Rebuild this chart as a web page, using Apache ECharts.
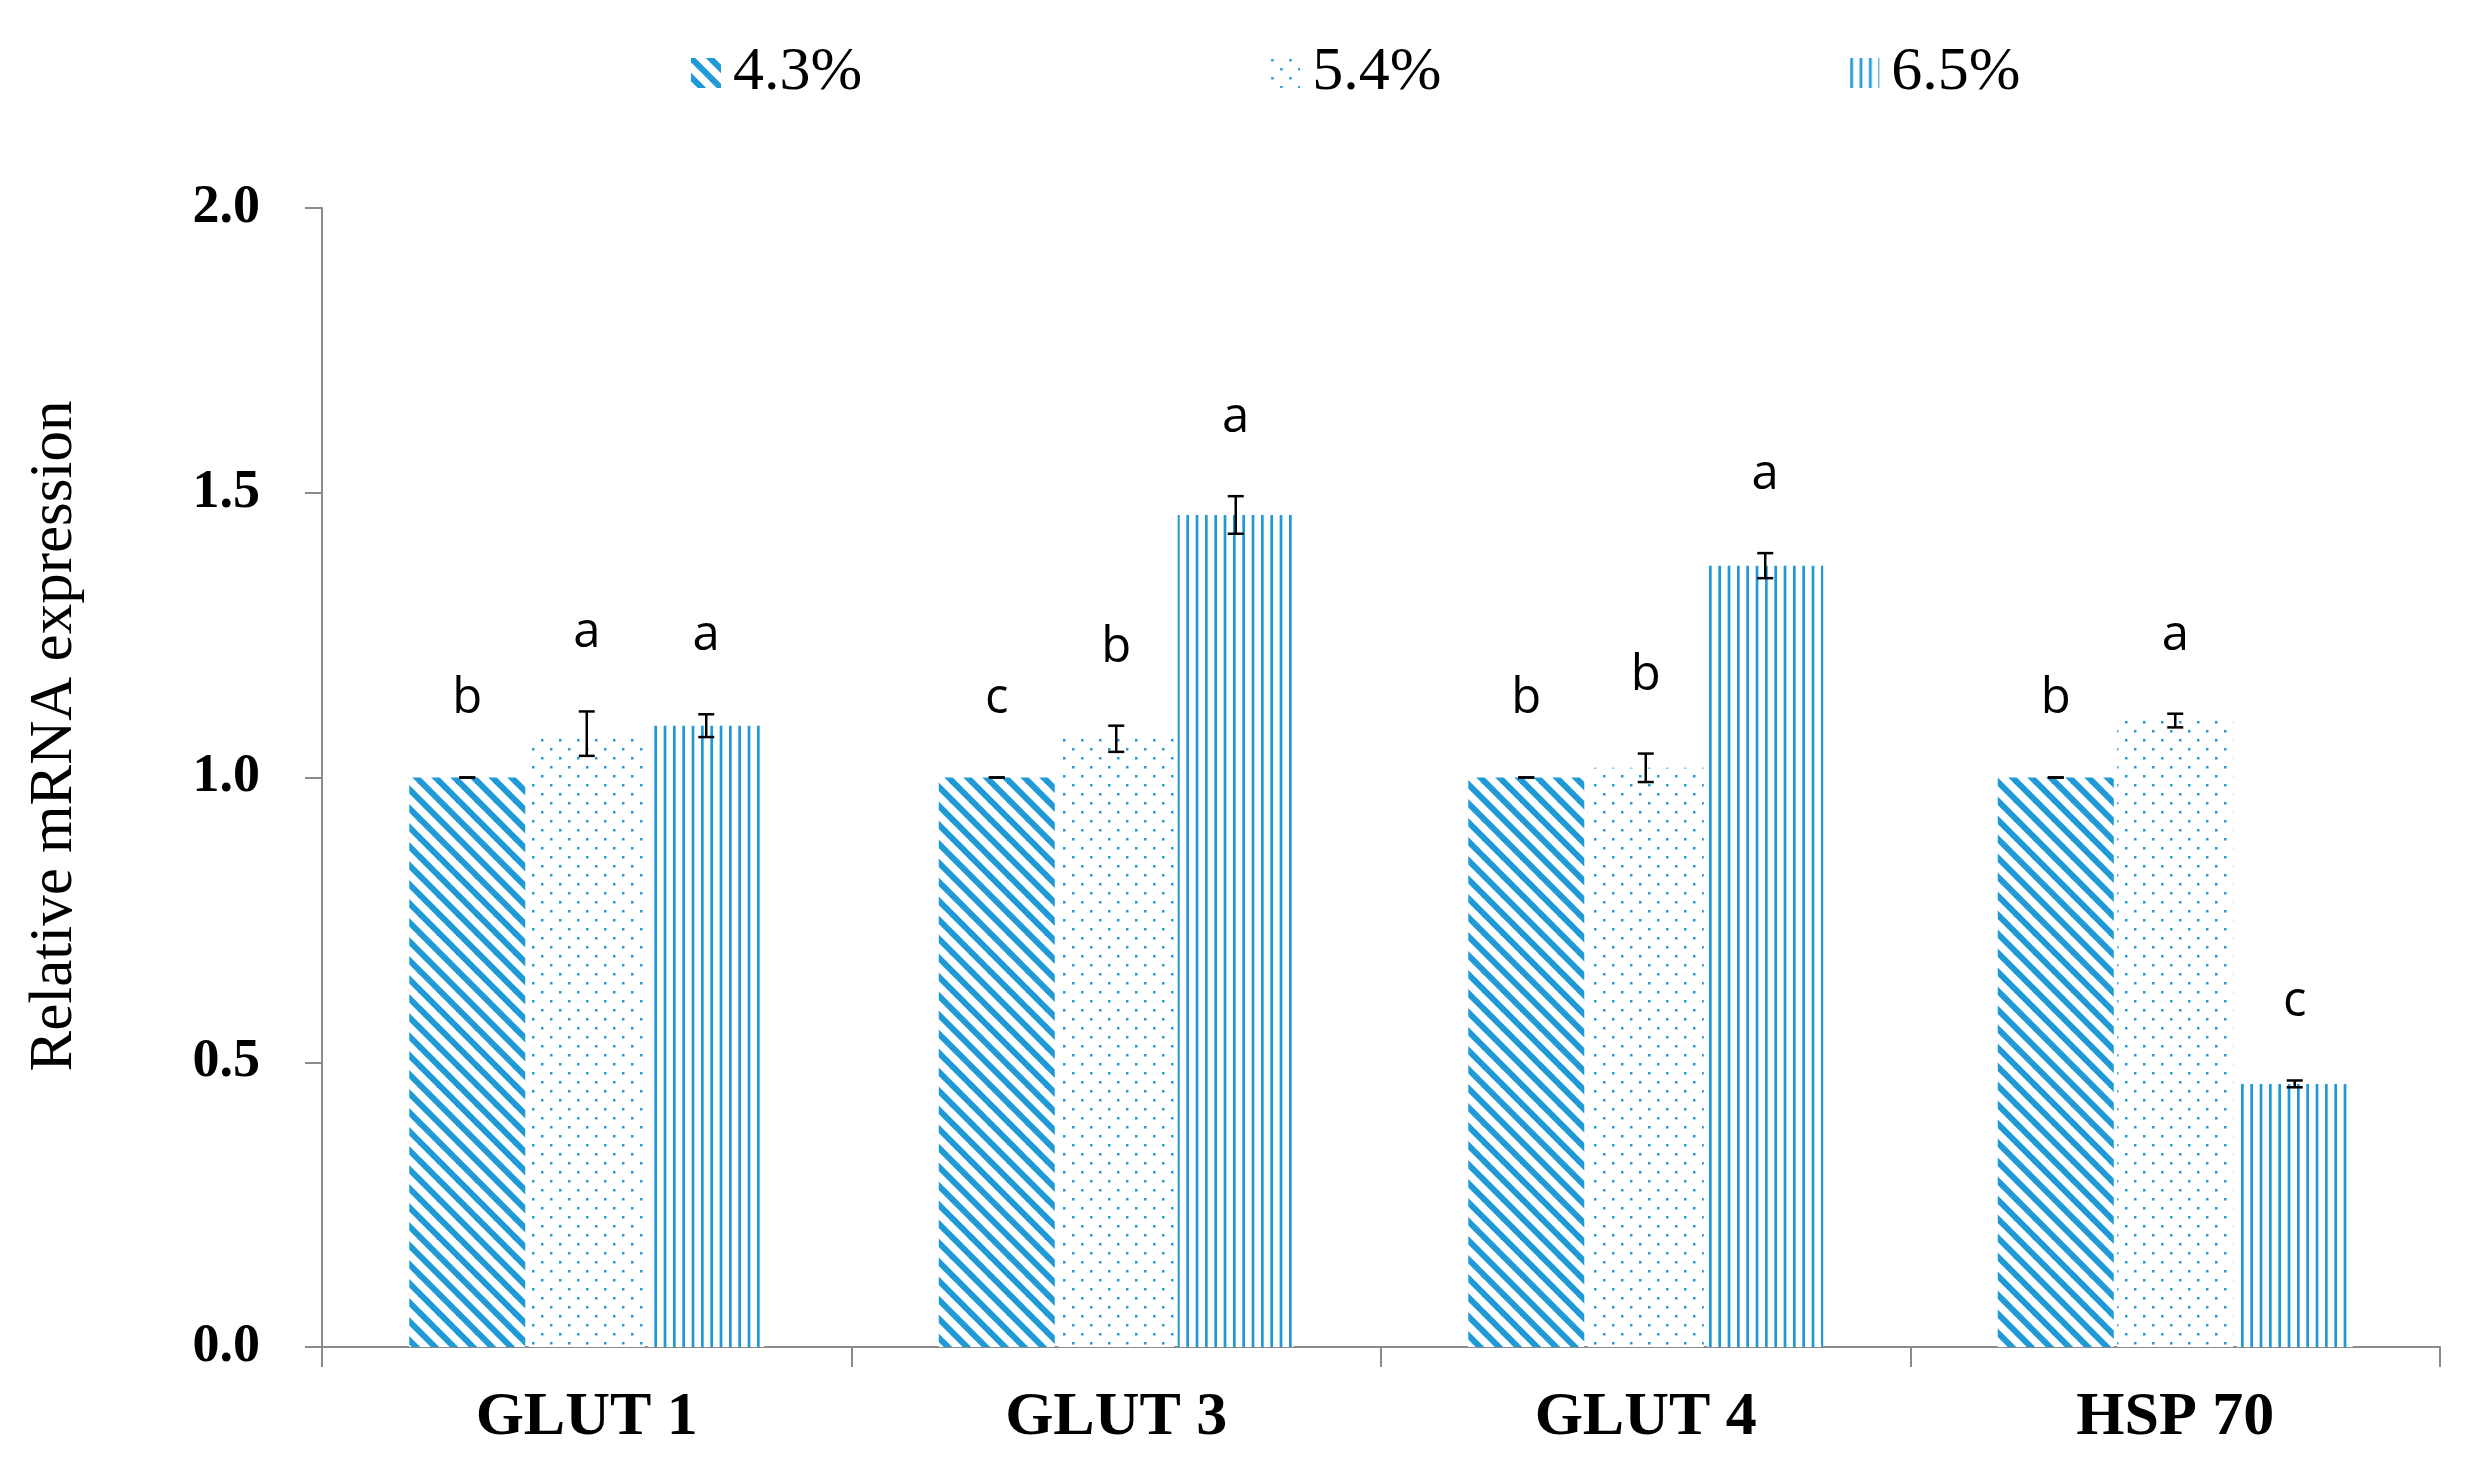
<!DOCTYPE html>
<html><head><meta charset="utf-8">
<script src="https://cdn.jsdelivr.net/npm/echarts@6/dist/echarts.min.js"></script>
<style>html,body{margin:0;padding:0;background:#fff}#chart{width:2475px;height:1481px}</style>
</head><body><div id="chart"></div>
<script>
// ---- data ----
const categories = ['GLUT 1', 'GLUT 3', 'GLUT 4', 'HSP 70'];
const seriesNames = ['4.3%', '5.4%', '6.5%'];
const mean43 = [1.000, 1.000, 1.000, 1.000];
const err43  = [0, 0, 0, 0];
const mean54 = [1.077, 1.068, 1.017, 1.100];
const err54  = [0.039, 0.023, 0.025, 0.012];
const mean65 = [1.091, 1.461, 1.372, 0.462];
const err65  = [0.020, 0.033, 0.022, 0.006];
const letters43 = ['b', 'c', 'b', 'b'];
const letters54 = ['a', 'b', 'b', 'a'];
const letters65 = ['a', 'a', 'a', 'c'];
const yTickValues = [0, 0.5, 1, 1.5, 2];
const yTickLabels = ['0.0', '0.5', '1.0', '1.5', '2.0'];
const yTitle = 'Relative mRNA expression';

// ---- styles ----
const BLUE = '#1F9AD6';
const AXIS = '#8a8a8a';
const BAR_W = 116;
const BAR_GAP = 0.03;
const BAR_STEP = BAR_W * (1 + BAR_GAP);

function diagPattern() {
  const s = 19, c = document.createElement('canvas'); c.width = s; c.height = s;
  const g = c.getContext('2d');
  g.fillStyle = '#fff'; g.fillRect(0, 0, s, s);
  g.strokeStyle = BLUE; g.lineWidth = 6;
  for (const dx of [-s, 0, s]) { g.beginPath(); g.moveTo(dx - 3, -3); g.lineTo(dx + s + 3, s + 3); g.stroke(); }
  return c;
}
function dotPattern() {
  const s = 18, c = document.createElement('canvas'); c.width = s; c.height = s;
  const g = c.getContext('2d');
  g.fillStyle = '#fff'; g.fillRect(0, 0, s, s);
  g.fillStyle = BLUE;
  g.fillRect(1, 1, 2.5, 2.5); g.fillRect(10, 10, 2.5, 2.5);
  return c;
}
function vlinePattern() {
  const w = 28, h = 4, c = document.createElement('canvas'); c.width = w; c.height = h;
  const g = c.getContext('2d');
  g.fillStyle = '#fff'; g.fillRect(0, 0, w, h);
  g.fillStyle = BLUE;
  for (const x of [1, 10.33, 19.67]) g.fillRect(x, 0, 2.7, h);
  return c;
}
const patterns = [diagPattern(), dotPattern(), vlinePattern()];
const means = [mean43, mean54, mean65];
const errs = [err43, err54, err65];
const letters = [letters43, letters54, letters65];

function makeRender(si) {
  return function (params, api) {
    const cat = api.value(0), m = api.value(1), e = api.value(2);
    const base = api.coord([cat, m]);
    const x = base[0] + (si - 1) * BAR_STEP;
    const yTop = api.coord([cat, m + e])[1];
    const yBot = api.coord([cat, m - e])[1];
    const cap = 8;
    const ls = { stroke: '#000', lineWidth: 2.5 };
    return {
      type: 'group',
      children: [
        { type: 'line', shape: { x1: x, y1: yTop, x2: x, y2: yBot }, style: ls },
        { type: 'line', shape: { x1: x - cap, y1: yTop, x2: x + cap, y2: yTop }, style: ls },
        { type: 'line', shape: { x1: x - cap, y1: yBot, x2: x + cap, y2: yBot }, style: ls },
        { type: 'text', x: x, y: yTop - 78,
          style: { text: letters[si][params.dataIndex], font: '49px "Open Sans"', fill: '#000',
                   align: 'center', verticalAlign: 'middle' } }
      ]
    };
  };
}

const series = [];
seriesNames.forEach((name, si) => {
  series.push({
    name: name, type: 'bar', barWidth: BAR_W, barGap: (BAR_GAP * 100) + '%',
    data: means[si],
    itemStyle: { color: { image: patterns[si], repeat: 'repeat' } },
    emphasis: { disabled: true }
  });
});
seriesNames.forEach((name, si) => {
  series.push({
    type: 'custom', z: 10, silent: true, clip: false,
    renderItem: makeRender(si),
    data: means[si].map((m, i) => [i, m, errs[si][i]])
  });
});

const chart = echarts.init(document.getElementById('chart'));
chart.setOption({
  animation: false,
  backgroundColor: '#fff',
  grid: { left: 322, right: 35, top: 208, bottom: 134, containLabel: false },
  legend: {
    data: seriesNames, left: 686, top: 37, itemGap: 408, itemWidth: 30, itemHeight: 30, icon: 'rect',
    textStyle: { fontFamily: '"Liberation Serif"', fontSize: 62, color: '#000', padding: [0, 0, 0, 7] },
    selectedMode: false
  },
  xAxis: {
    type: 'category', data: categories,
    axisLine: { lineStyle: { color: AXIS, width: 2 } },
    axisTick: { show: true, length: 20, interval: 0, lineStyle: { color: AXIS, width: 2 } },
    axisLabel: { fontFamily: '"Liberation Serif"', fontWeight: 'bold', fontSize: 62, color: '#000', margin: 40, interval: 0 }
  },
  yAxis: {
    type: 'value', min: 0, max: 2, interval: 0.5,
    axisLine: { show: true, lineStyle: { color: AXIS, width: 2 } },
    axisTick: { show: true, length: 17, lineStyle: { color: AXIS, width: 2 } },
    splitLine: { show: false },
    axisLabel: {
      fontFamily: '"Liberation Serif"', fontWeight: 'bold', fontSize: 54, color: '#000', margin: 62,
      formatter: v => { const i = yTickValues.indexOf(v); return i >= 0 ? yTickLabels[i] : ''; }
    }
  },
  graphic: [{
    type: 'text', x: 55, y: 736, rotation: Math.PI / 2,
    style: { text: yTitle, font: '61px "Liberation Serif"', fill: '#000', align: 'center', verticalAlign: 'middle' }
  }],
  series: series
});
</script>
</body></html>
